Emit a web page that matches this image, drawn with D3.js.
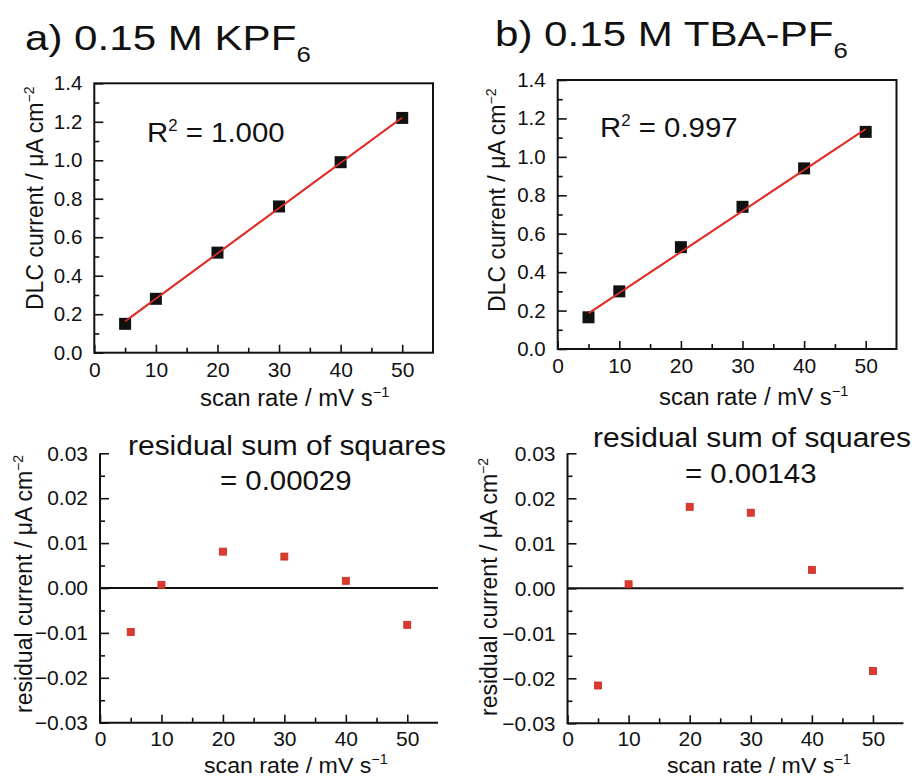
<!DOCTYPE html>
<html>
<head>
<meta charset="utf-8">
<script src="https://cdn.jsdelivr.net/npm/d3@7"></script>
<style>
  body { margin: 0; background: #fff; }
  svg { display: block; font-family: "Liberation Sans", Arial, sans-serif; }
</style>
</head>
<body>
<script>
// values
const scanRates = [5, 10, 20, 30, 40, 50]
const dlcKPF6 = [0.15, 0.28, 0.52, 0.76, 0.99, 1.22]
const dlcTBA = [0.165, 0.30, 0.53, 0.74, 0.94, 1.13]
const fitRates = [5, 50]
const fitKPF6 = [0.163, 1.222]
const fitTBA = [0.185, 1.145]
const residKPF6 = [-0.0098, 0.0007, 0.0081, 0.0070, 0.0016, -0.0082]
const residTBA = [-0.0216, 0.0009, 0.0181, 0.0168, 0.0041, -0.0184]

const xTicks = [0, 10, 20, 30, 40, 50]
const xMinor = [5, 15, 25, 35, 45]
const dlcTicks = [0, 0.2, 0.4, 0.6, 0.8, 1.0, 1.2, 1.4]
const dlcMinor = [0.1, 0.3, 0.5, 0.7, 0.9, 1.1, 1.3]
const residTicks = [-0.03, -0.02, -0.01, 0, 0.01, 0.02, 0.03]
const residMinor = [-0.025, -0.015, -0.005, 0.005, 0.015, 0.025]

const W = 914, H = 776
const svg = d3.select('body').append('svg')
  .attr('width', W).attr('height', H)
  .attr('viewBox', `0,0,${W},${H}`)

// text helper, sx stretches glyphs horizontally like the scanned figure
function label(g, x, y, parts, size, sx, rotate){
  const t = g.append('text')
    .attr('transform', rotate
      ? `translate(${x},${y}) rotate(-90)`
      : `translate(${x},${y}) scale(${sx || 1},1)`)
    .attr('font-size', size)
    .attr('fill', '#111')
  parts.forEach(p => {
    const s = t.append('tspan').text(p.text)
    if(p.size) s.attr('font-size', p.size)
    if(p.dy) s.attr('dy', p.dy)
  })
  return t
}

function panel(cfg){
  const x = d3.scaleLinear().domain([0, 55]).range([cfg.left, cfg.right])
  const y = d3.scaleLinear().domain(cfg.yDomain).range([cfg.bottom, cfg.top])
  const g = svg.append('g')

  const clean = a => a.call(s => s.select('.domain').remove())

  // minor ticks
  g.append('g').attr('transform', `translate(0,${cfg.bottom})`)
    .call(d3.axisBottom(x).tickValues(xMinor).tickSize(-5).tickFormat(''))
    .call(clean)
  g.append('g').attr('transform', `translate(${cfg.left},0)`)
    .call(d3.axisLeft(y).tickValues(cfg.yMinor).tickSize(-5).tickFormat(''))
    .call(clean)

  // major ticks
  const xa = g.append('g').attr('transform', `translate(0,${cfg.bottom})`)
    .call(d3.axisBottom(x).tickValues(xTicks).tickSize(-8).tickPadding(cfg.xPad).tickSizeOuter(0))
    .call(clean)
  const ya = g.append('g').attr('transform', `translate(${cfg.left},0)`)
    .call(d3.axisLeft(y).tickValues(cfg.yTicks).tickSize(-9).tickPadding(12).tickFormat(cfg.fmt))
    .call(clean)

  g.selectAll('.tick line').attr('stroke', '#111').attr('stroke-width', 1.6)
  g.selectAll('.tick text').attr('fill', '#111')
    .attr('font-family', '"Liberation Sans", Arial, sans-serif')
  xa.selectAll('.tick text').attr('font-size', 21)
  ya.selectAll('.tick text').attr('font-size', cfg.ySize)

  if(cfg.box){
    g.append('rect')
      .attr('x', cfg.left).attr('y', cfg.top)
      .attr('width', cfg.right - cfg.left).attr('height', cfg.bottom - cfg.top)
      .attr('fill', 'none').attr('stroke', '#111').attr('stroke-width', 2)
  } else {
    g.append('path')
      .attr('d', `M${cfg.left},${cfg.top}V${cfg.bottom}H${cfg.right}`)
      .attr('fill', 'none').attr('stroke', '#111').attr('stroke-width', 2)
  }
  return {g, x, y}
}

const dlcFmt = d3.format('.1f')
const resFmt = d3.format('.2f')

const topA = panel({left: 94.3, right: 433, top: 83.3, bottom: 352.7, yDomain: [0, 1.4],
  yTicks: dlcTicks, yMinor: dlcMinor, fmt: dlcFmt, xPad: 9.5, ySize: 20.5, box: true})
const topB = panel({left: 557.7, right: 896.5, top: 80, bottom: 349, yDomain: [0, 1.4],
  yTicks: dlcTicks, yMinor: dlcMinor, fmt: dlcFmt, xPad: 9.5, ySize: 20.5, box: true})
const botA = panel({left: 100, right: 438, top: 453.3, bottom: 722.7, yDomain: [-0.03, 0.03],
  yTicks: residTicks, yMinor: residMinor, fmt: resFmt, xPad: 8.5, ySize: 21, box: false})
const botB = panel({left: 567.5, right: 903.5, top: 453.3, bottom: 723.3, yDomain: [-0.03, 0.03],
  yTicks: residTicks, yMinor: residMinor, fmt: resFmt, xPad: 8, ySize: 21, box: false})

// DLC panels: fit line + squares
function dlcMarks(p, vals, fit){
  const line = d3.line().x((d, i) => p.x(d)).y((d, i) => p.y(fit[i]))
  p.g.append('path').datum(fitRates).attr('d', line)
    .attr('fill', 'none').attr('stroke', '#e3302a').attr('stroke-width', 2)
  p.g.append('g').selectAll('rect').data(scanRates).enter().append('rect')
    .attr('x', (d) => p.x(d) - 6)
    .attr('y', (d, i) => p.y(vals[i]) - 6)
    .attr('width', 12).attr('height', 12)
    .attr('fill', '#111')
  // draw the line again on top, like the original
  p.g.append('path').datum(fitRates).attr('d', line)
    .attr('fill', 'none').attr('stroke', '#e3302a').attr('stroke-width', 1.6)
}
dlcMarks(topA, dlcKPF6, fitKPF6)
dlcMarks(topB, dlcTBA, fitTBA)

// residual panels: zero line + red squares
function residMarks(p, vals){
  p.g.append('line')
    .attr('x1', p.x(0)).attr('x2', p.x(55))
    .attr('y1', p.y(0)).attr('y2', p.y(0))
    .attr('stroke', '#111').attr('stroke-width', 2)
  p.g.append('g').selectAll('rect').data(scanRates).enter().append('rect')
    .attr('x', (d) => p.x(d) - 3.5)
    .attr('y', (d, i) => p.y(vals[i]) - 3.5)
    .attr('width', 7).attr('height', 7)
    .attr('fill', '#dc3a2c').attr('stroke', '#c02a22').attr('stroke-width', 0.8)
}
residMarks(botA, residKPF6)
residMarks(botB, residTBA)

// titles
label(svg, 25, 50, [{text: 'a) 0.15 M KPF'}, {text: '6', size: 22, dy: 12}], 36, 1.17)
label(svg, 495, 46, [{text: 'b) 0.15 M TBA-PF'}, {text: '6', size: 22, dy: 12}], 36, 1.17)

// fit quality
label(svg, 147, 142, [{text: 'R'}, {text: '2', size: 16, dy: -11}, {text: ' = 1.000', dy: 11}], 28, 1.05)
label(svg, 600, 137, [{text: 'R'}, {text: '2', size: 16, dy: -11}, {text: ' = 0.997', dy: 11}], 28, 1.05)

label(svg, 128, 455, [{text: 'residual sum of squares'}], 28, 1.07)
label(svg, 220, 490, [{text: '= 0.00029'}], 28, 1.05)
label(svg, 593, 447, [{text: 'residual sum of squares'}], 28, 1.07)
label(svg, 685, 483, [{text: '= 0.00143'}], 28, 1.05)

// axis titles
const xTitle = [{text: 'scan rate / mV s'}, {text: '\u22121', size: 14, dy: -9}]
label(svg, 200, 406, xTitle, 23, 1.04)
label(svg, 659, 405, xTitle, 23, 1.04)
label(svg, 204, 772.5, xTitle, 22.5, 1.03)
label(svg, 667, 772.5, xTitle, 22.5, 1.03)

const dlcTitle = [{text: 'DLC current / \u03bcA cm'}, {text: '\u22122', size: 14, dy: -9}]
const resTitle = [{text: 'residual current / \u03bcA cm'}, {text: '\u22122', size: 14, dy: -9}]
label(svg, 43, 310, dlcTitle, 23, 1, true)
label(svg, 505, 312, dlcTitle, 23, 1, true)
label(svg, 31.5, 713, resTitle, 23, 1, true)
label(svg, 496.5, 716, resTitle, 23, 1, true)
</script>
</body>
</html>
